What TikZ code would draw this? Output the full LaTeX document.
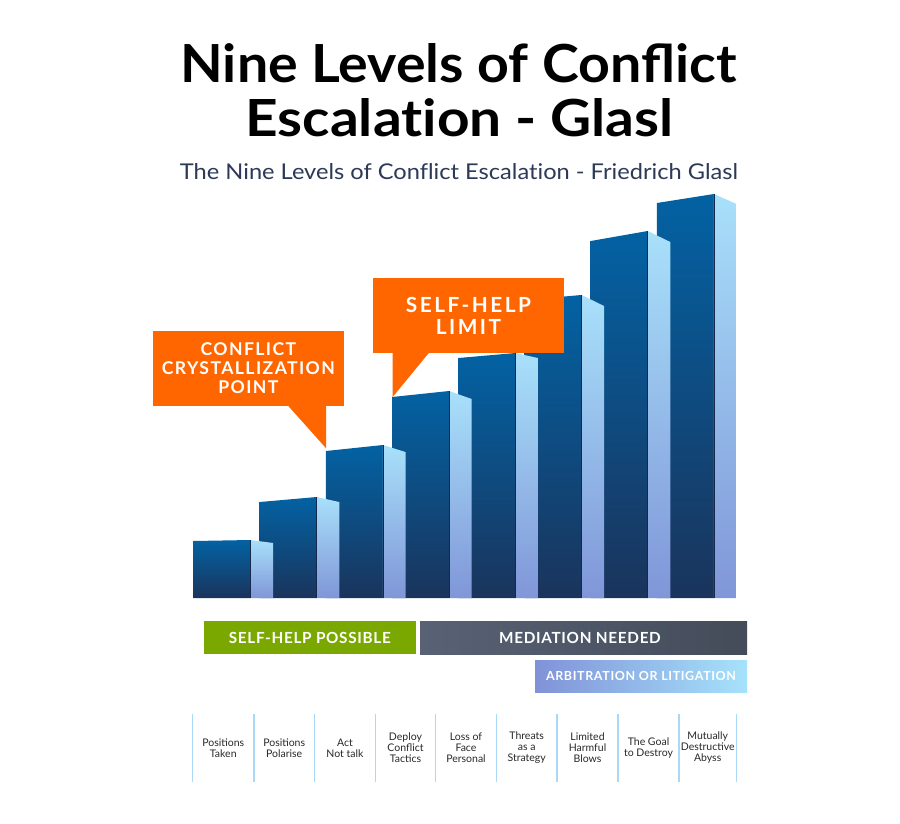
\documentclass[tikz,border=0pt]{standalone}
\usepackage{fontspec}
\setmainfont{Lato}
\usetikzlibrary{calc}
\definecolor{barTop}{RGB}{3,98,163}
\definecolor{barBot}{RGB}{26,52,92}
\definecolor{sideTop}{RGB}{168,224,250}
\definecolor{sideBot}{RGB}{128,150,216}
\definecolor{calloutOrange}{RGB}{255,102,0}
\definecolor{bandGreen}{RGB}{122,168,0}
\definecolor{medLeft}{RGB}{88,98,116}
\definecolor{medRight}{RGB}{68,76,90}
\definecolor{arbLeft}{RGB}{128,146,216}
\definecolor{arbRight}{RGB}{166,226,251}
\definecolor{subNavy}{RGB}{44,58,88}
\definecolor{labelGray}{RGB}{40,40,40}
\definecolor{divBlue}{RGB}{170,216,246}
\tikzset{
  frontface/.style={top color=barTop, bottom color=barBot},
  sideface/.style={top color=sideTop, bottom color=sideBot},
  callbox/.style={fill=calloutOrange, text=white, inner sep=0pt, align=center},
  bandbox/.style={inner sep=0pt, text=white, minimum height=33pt,
    font=\bfseries\fontsize{15.3}{15.3}\selectfont\addfontfeatures{LetterSpace=4.5}},
  lvl/.style={font=\fontsize{10.5}{11}\selectfont, text=labelGray, align=center, inner sep=0pt},
  divider/.style={draw=divBlue, line width=1.4pt}
}
\begin{document}
\begin{tikzpicture}[x=1pt,y=-1pt]
\useasboundingbox (0,0) rectangle (900,823);
\fill[white] (0,0) rectangle (900,823);

% titles
\node[anchor=base, inner sep=0pt] (title1) at (458.5,82)
  {\resizebox{556pt}{39pt}{\bfseries Nine Levels of Conflict}};
\node[anchor=base, inner sep=0pt] (title2) at (459.5,136)
  {\resizebox{428pt}{38pt}{\bfseries\addfontfeatures{Ligatures=NoCommon}Escalation - Glasl}};
\node[anchor=base, inner sep=0pt, text=subNavy] (subtitle) at (459,179)
  {\resizebox{558pt}{16pt}{\addfontfeatures{Ligatures=NoCommon}The Nine Levels of Conflict Escalation - Friedrich Glasl}};

% bars, drawn from the back (right) to the front (left)
\foreach \i/\tl/\tr/\ts in {8/203/194/204, 7/241/231/242, 6/300/295/306,
    5/358/353/358, 4/397/391/399, 3/451/445/452, 2/502/497/502, 1/541/540/543}{
  \pgfmathsetmacro{\L}{193.5+66.2*(\i-1)}
  \pgfmathsetmacro{\F}{\L+57}
  \pgfmathsetmacro{\S}{\F+22.6}
  \shade[frontface] (\L,598) -- (\L,\tl) -- (\F,\tr) -- (\F,598) -- cycle;
  \shade[sideface] (\F,598) -- (\F,\tr) -- (\S,\ts) -- (\S,598) -- cycle;
  \draw[barBot!80!black, line width=0.6pt] (\F,\tr) -- (\F,598);
}

% callouts
\node[callbox, minimum width=191.3pt, minimum height=75pt,
      font=\bfseries\fontsize{17.6}{19}\selectfont\addfontfeatures{LetterSpace=8}] (crystal) at (248.4,368.5)
  {CONFLICT\\CRYSTALLIZATION\\POINT};
\fill[calloutOrange] ($(crystal.south west)+(135.5,-0.5)$) -- ($(crystal.south west)+(173.5,-0.5)$)
  -- ($(crystal.south west)+(173.5,42)$) -- cycle;
\node[callbox, minimum width=191.6pt, minimum height=75pt,
      font=\bfseries\fontsize{20.8}{21.8}\selectfont\addfontfeatures{LetterSpace=12}] (limit) at (468.5,315.5)
  {SELF-HELP\\LIMIT};
\fill[calloutOrange] ($(limit.south west)+(20,-0.5)$) -- ($(limit.south west)+(56.5,-0.5)$)
  -- ($(limit.south west)+(20,44)$) -- cycle;

% bands
\node[bandbox, fill=bandGreen, minimum width=212.4pt] (selfhelp) at (309.8,637.5)
  {SELF-HELP POSSIBLE};
\shade[left color=medLeft, right color=medRight] (420,621) rectangle (747,654);
\node[bandbox, minimum width=327pt] (mediation) at (580,637.5) {MEDIATION NEEDED};
\shade[left color=arbLeft, right color=arbRight] (535,660) rectangle (747,692);
\node[bandbox, minimum width=212pt, minimum height=32pt,
      font=\bfseries\fontsize{12.5}{12.5}\selectfont\addfontfeatures{LetterSpace=5}] (arbitration) at (641,676)
  {ARBITRATION OR LITIGATION};

% level dividers
\foreach \x in {192.7,253.8,314.5,375.3,435.6,496.4,557,618,679,736.4}{
  \draw[divider] (\x,714) -- (\x,782);
}

% level labels
\node[lvl] (l1) at (223.3,748) {Positions\\Taken};
\node[lvl] (l2) at (284.2,748) {Positions\\Polarise};
\node[lvl] (l3) at (344.9,748) {Act\\Not talk};
\node[lvl] (l4) at (405.5,748) {Deploy\\Conflict\\Tactics};
\node[lvl] (l5) at (466,748) {Loss of\\Face\\Personal};
\node[lvl] (l6) at (526.7,748) {Threats\\as a\\Strategy};
\node[lvl] (l7) at (587.5,748) {Limited\\Harmful\\Blows};
\node[lvl] (l8) at (648.5,748) {The Goal\\to Destroy};
\node[lvl] (l9) at (707.7,748) {Mutually\\Destructive\\Abyss};
\end{tikzpicture}
\end{document}
